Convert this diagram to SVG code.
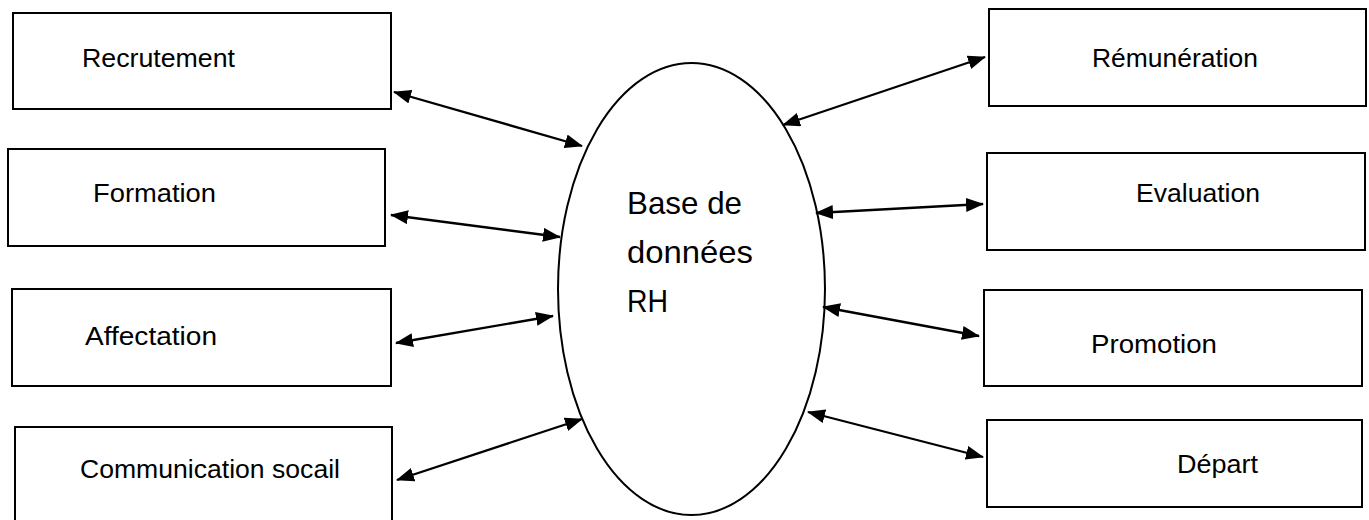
<svg xmlns="http://www.w3.org/2000/svg" width="1369" height="520" viewBox="0 0 1369 520">
  <style>
    .box { fill: #ffffff; stroke: #000000; stroke-width: 2; }
    .db { fill: #ffffff; stroke: #000000; stroke-width: 2; }
    .label { font-family: "Liberation Sans", Arial, sans-serif; font-size: 26.5px; fill: #000000; }
    .dblabel { font-family: "Liberation Sans", Arial, sans-serif; font-size: 31.5px; fill: #000000; }
    .link { fill: none; stroke: #000000; stroke-width: 2.3; marker-start: url(#head); marker-end: url(#head); }
  </style>
  <defs>
    <marker id="head" viewBox="0 0 18 14" refX="17" refY="7" markerWidth="18" markerHeight="14" markerUnits="userSpaceOnUse" orient="auto-start-reverse">
      <path d="M0,0 L18,7 L0,14 z" fill="#000000"/>
    </marker>
  </defs>

  <rect width="1369" height="520" fill="#ffffff"/>

  <!-- central database -->
  <g id="node-db">
    <ellipse class="db" cx="691.5" cy="289" rx="133.5" ry="226"/>
    <text class="dblabel" x="627" y="214" textLength="115" lengthAdjust="spacingAndGlyphs">Base de</text>
    <text class="dblabel" x="627" y="263" textLength="126" lengthAdjust="spacingAndGlyphs">données</text>
    <text class="dblabel" x="627" y="312" textLength="41" lengthAdjust="spacingAndGlyphs">RH</text>
  </g>

  <!-- left-hand processes -->
  <g id="node-recrutement">
    <rect class="box" x="13" y="13" width="378" height="96"/>
    <text class="label" x="82" y="67" textLength="153" lengthAdjust="spacingAndGlyphs">Recrutement</text>
  </g>
  <g id="node-formation">
    <rect class="box" x="8" y="149" width="377" height="97"/>
    <text class="label" x="93" y="202" textLength="123" lengthAdjust="spacingAndGlyphs">Formation</text>
  </g>
  <g id="node-affectation">
    <rect class="box" x="12" y="289" width="379" height="97"/>
    <text class="label" x="85" y="345" textLength="132" lengthAdjust="spacingAndGlyphs">Affectation</text>
  </g>
  <g id="node-communication">
    <rect class="box" x="15" y="427" width="377" height="100"/>
    <text class="label" x="80" y="478" textLength="260" lengthAdjust="spacingAndGlyphs">Communication socail</text>
  </g>

  <!-- right-hand processes -->
  <g id="node-remuneration">
    <rect class="box" x="989" y="9" width="377" height="97"/>
    <text class="label" x="1092" y="67" textLength="166" lengthAdjust="spacingAndGlyphs">Rémunération</text>
  </g>
  <g id="node-evaluation">
    <rect class="box" x="987" y="153" width="378" height="97"/>
    <text class="label" x="1136" y="202" textLength="124" lengthAdjust="spacingAndGlyphs">Evaluation</text>
  </g>
  <g id="node-promotion">
    <rect class="box" x="984" y="290" width="378" height="96"/>
    <text class="label" x="1091" y="353" textLength="126" lengthAdjust="spacingAndGlyphs">Promotion</text>
  </g>
  <g id="node-depart">
    <rect class="box" x="987" y="420" width="375" height="87"/>
    <text class="label" x="1177" y="473" textLength="81" lengthAdjust="spacingAndGlyphs">Départ</text>
  </g>

  <!-- two-way links between each process and the database -->
  <g id="connectors">
    <line class="link" x1="394" y1="92" x2="582" y2="146"/>
    <line class="link" x1="391" y1="215" x2="560" y2="237"/>
    <line class="link" x1="396" y1="343" x2="553" y2="316"/>
    <line class="link" x1="397" y1="480" x2="582" y2="419"/>
    <line class="link" x1="783" y1="125" x2="985" y2="57"/>
    <line class="link" x1="816" y1="213" x2="983" y2="204"/>
    <line class="link" x1="823" y1="307" x2="979" y2="336"/>
    <line class="link" x1="808" y1="412" x2="983" y2="457"/>
  </g>
</svg>
